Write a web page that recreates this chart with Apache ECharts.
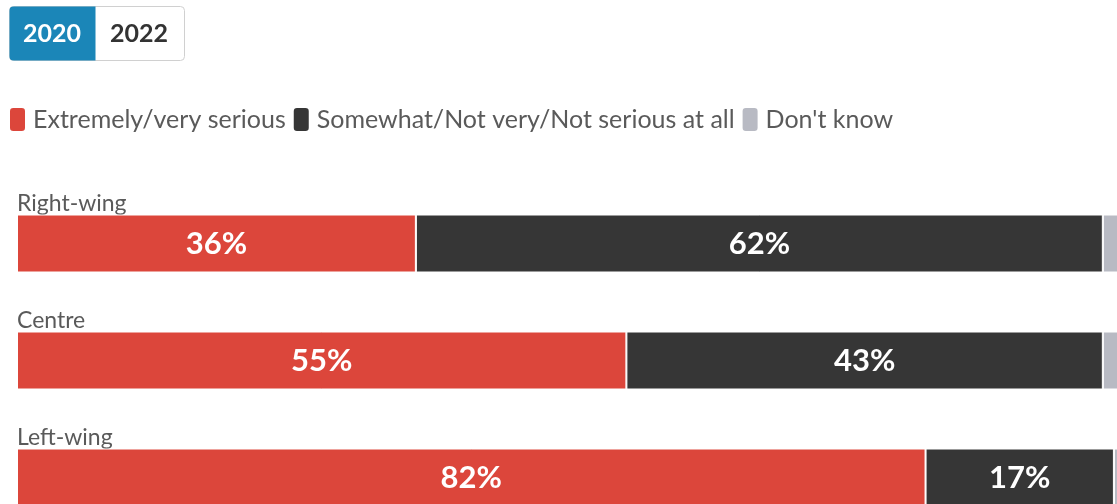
<!DOCTYPE html>
<html>
<head>
<meta charset="utf-8">
<script src="https://cdn.jsdelivr.net/npm/echarts@6/dist/echarts.min.js"></script>
<style>
html,body{margin:0;padding:0;background:#fff;overflow:hidden;}
#chart{width:1117px;height:504px;}
</style>
</head>
<body>
<div id="chart"></div>
<script>
const categories = ['Right-wing', 'Centre', 'Left-wing'];
const seriesNames = ['Extremely/very serious', 'Somewhat/Not very/Not serious at all', "Don't know"];
const serious = [36, 55, 82];
const notSerious = [62, 43, 17];
const dontKnow = [2, 2, 1];
const tabs = ['2020', '2022'];

const colors = ['#dc463b', '#363636', '#b8bac3'];
const FONT = 'Lato';

const chart = echarts.init(document.getElementById('chart'), null, {renderer: 'canvas'});

function mkSeries(name, data, color, showLabel) {
  return {
    name: name,
    type: 'bar',
    stack: 'total',
    data: data,
    barWidth: 58,
    itemStyle: {color: color, borderColor: '#fff', borderWidth: 1},
    label: {
      show: showLabel,
      position: 'inside',
      formatter: '{c}%',
      color: '#fff',
      fontFamily: FONT,
      fontWeight: 'bold',
      fontSize: 31
    },
    emphasis: {disabled: true}
  };
}

chart.setOption({
  animation: false,
  textStyle: {fontFamily: FONT},
  legend: {
    left: 3,
    top: 101,
    itemWidth: 17,
    itemHeight: 25,
    itemGap: 6,
    icon: 'roundRect',
    textStyle: {color: '#5a5a5a', fontSize: 25, fontFamily: FONT, padding: [0, 0, 0, 2]},
    data: seriesNames
  },
  grid: {left: 17, top: 185, width: 1108, height: 351, containLabel: false, outerBoundsMode: 'none'},
  xAxis: {type: 'value', min: 0, max: 100, show: false},
  yAxis: {
    type: 'category',
    data: categories,
    inverse: true,
    axisLine: {show: false},
    axisTick: {show: false},
    axisLabel: {
      inside: true,
      margin: 0,
      align: 'left',
      verticalAlign: 'bottom',
      padding: [0, 0, 28, 0],
      color: '#5a5a5a',
      fontSize: 23,
      fontFamily: FONT
    }
  },
  graphic: [
    {type: 'rect', shape: {x: 9.5, y: 6.5, width: 175, height: 54, r: 4}, style: {fill: '#fff', stroke: '#d0d0d0', lineWidth: 1}},
    {type: 'rect', shape: {x: 9.5, y: 6.5, width: 86, height: 54, r: [4, 0, 0, 4]}, style: {fill: '#1b86b8'}},
    {type: 'text', x: 52, y: 34, style: {text: tabs[0], fill: '#fff', font: 'bold 25px ' + FONT, textAlign: 'center', textVerticalAlign: 'middle'}},
    {type: 'text', x: 139, y: 34, style: {text: tabs[1], fill: '#333', font: 'bold 25px ' + FONT, textAlign: 'center', textVerticalAlign: 'middle'}}
  ],
  series: [
    mkSeries(seriesNames[0], serious, colors[0], true),
    mkSeries(seriesNames[1], notSerious, colors[1], true),
    mkSeries(seriesNames[2], dontKnow, colors[2], false)
  ]
});
</script>
</body>
</html>
